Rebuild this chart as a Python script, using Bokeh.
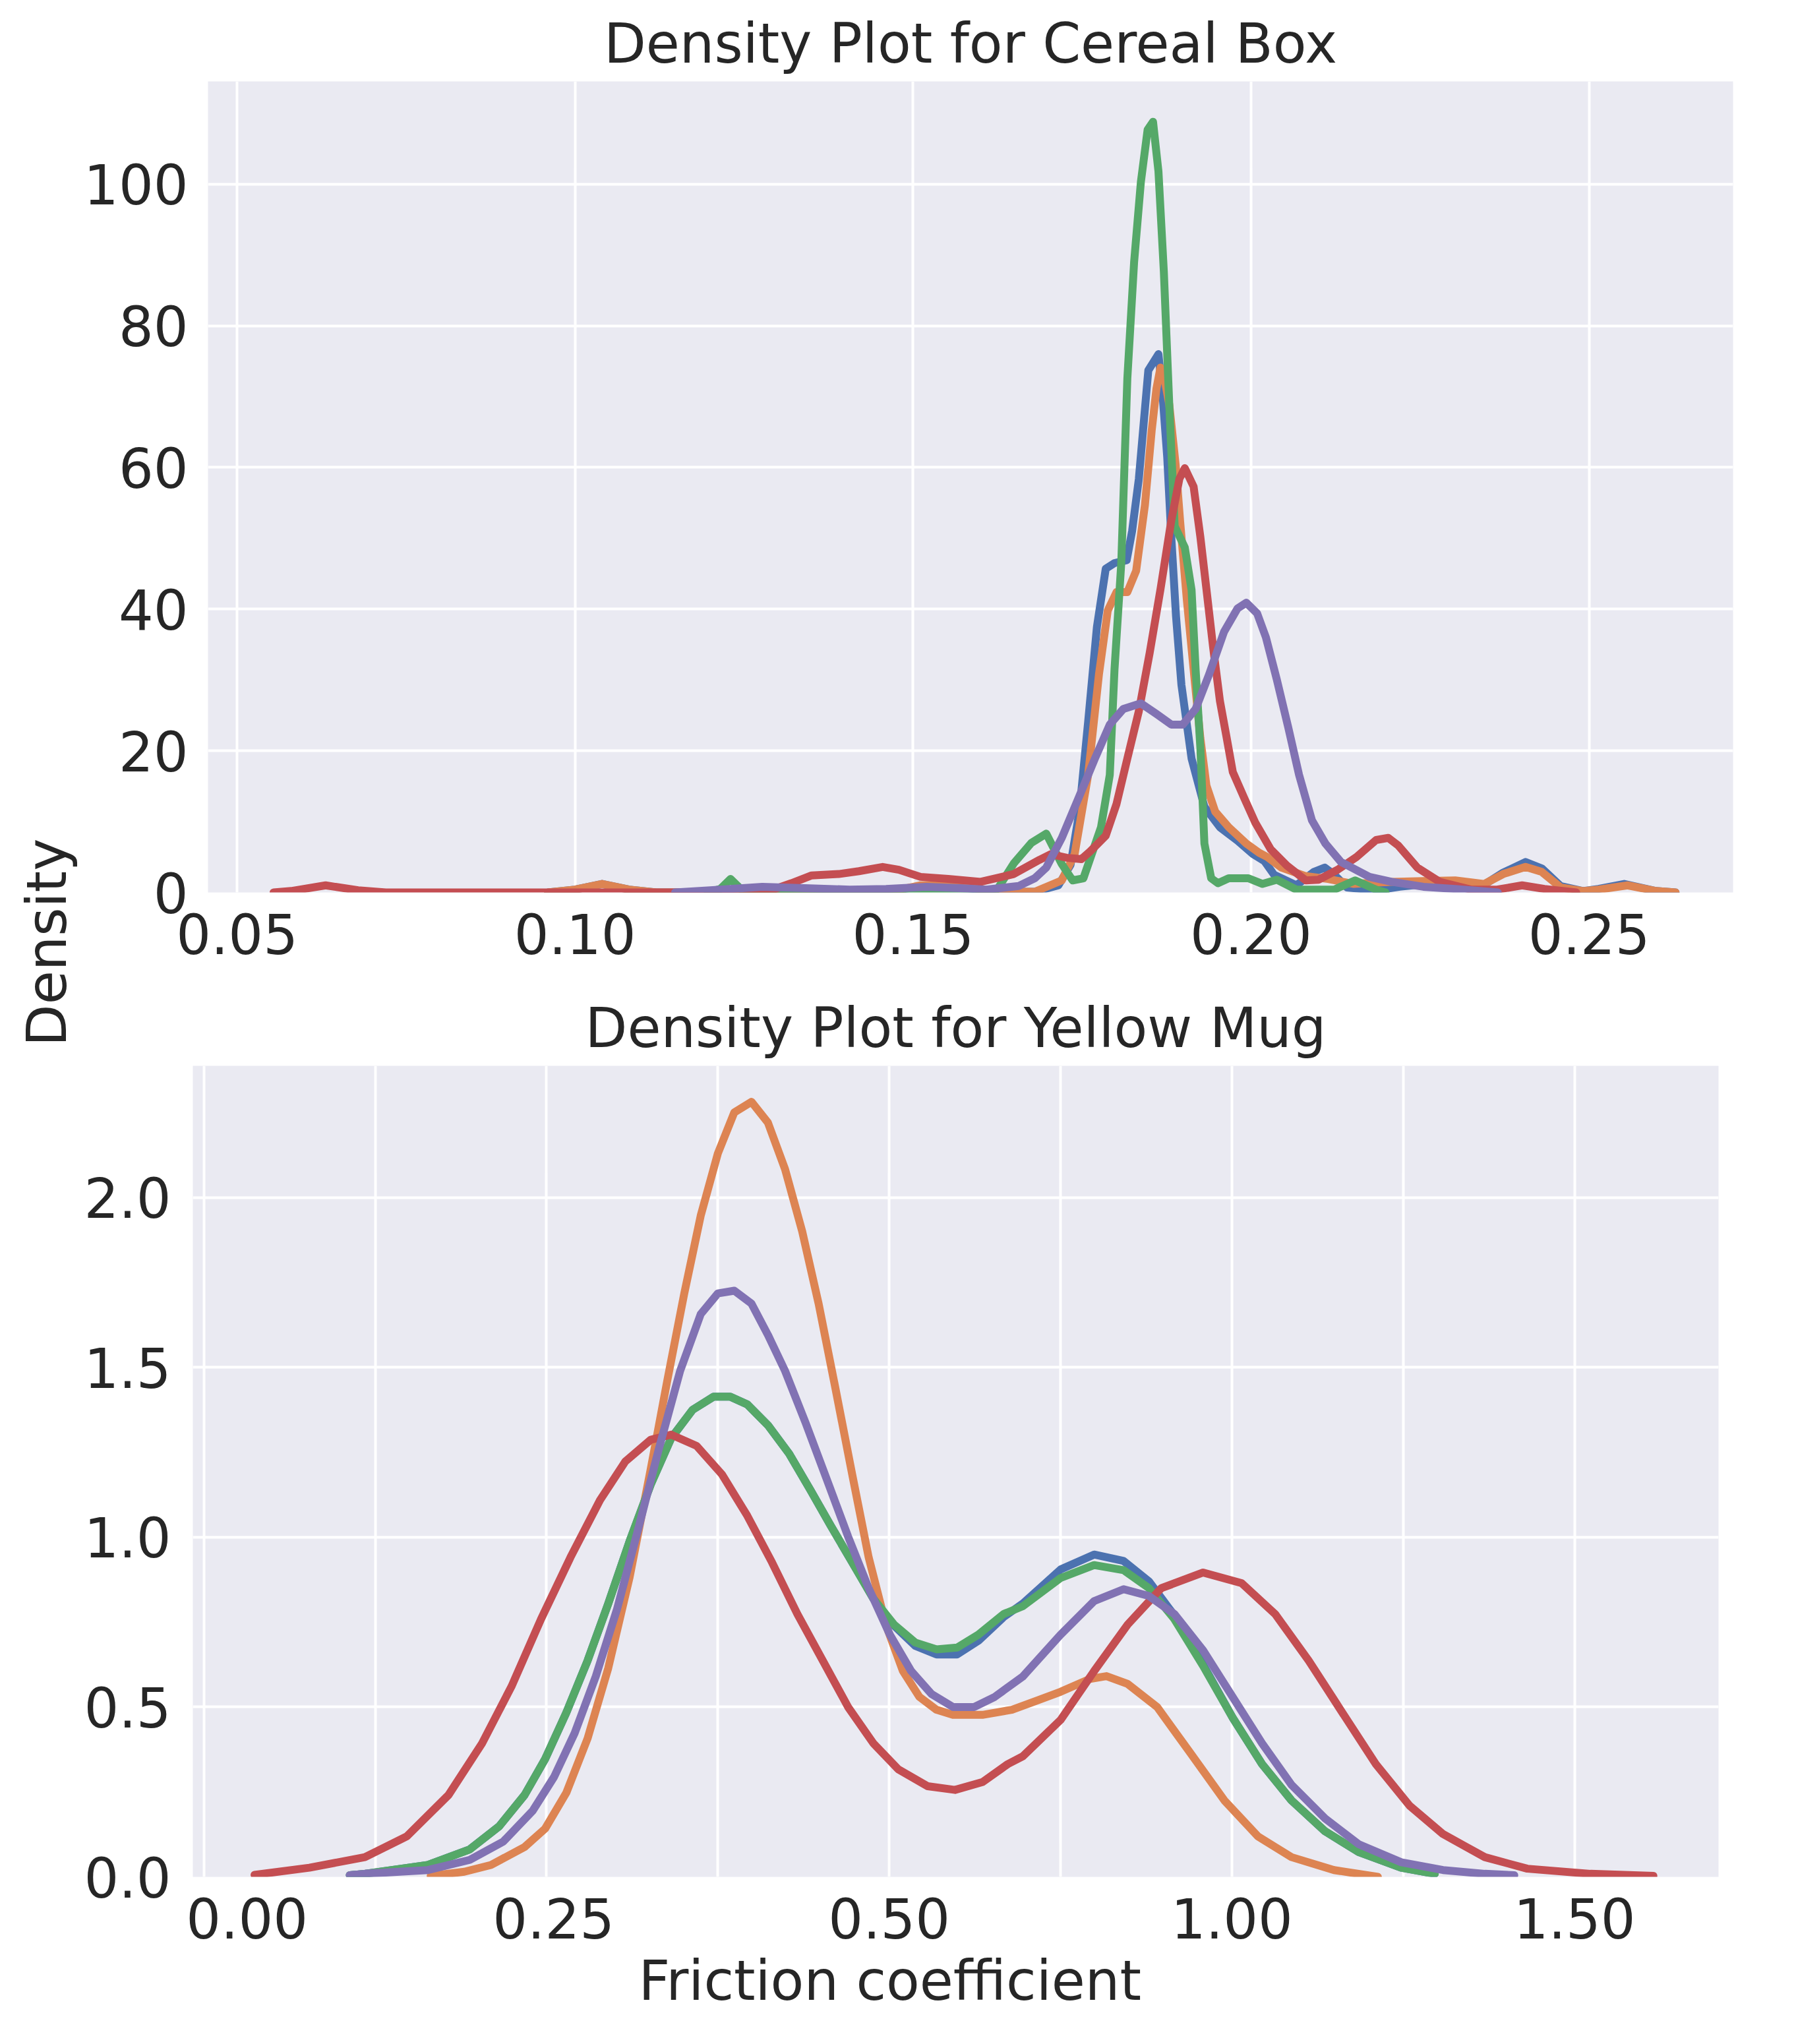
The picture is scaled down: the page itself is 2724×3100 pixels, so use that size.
import math
from bokeh.plotting import figure
from bokeh.models import Range1d, FixedTicker, Label, Title, PrintfTickFormatter, CustomJSTickFormatter
from bokeh.layouts import row, column
from bokeh.embed import file_html
from bokeh.resources import INLINE

FONT = "DejaVu Sans"
INK = "#262626"
FS = "83px"
PALETTE = ["#4C72B0", "#DD8452", "#55A868", "#C44E52", "#8172B3"]

# ---------------- Cereal Box (top) ----------------
cereal_s1_x = [0.096, 0.100, 0.104, 0.108, 0.112, 0.146, 0.151, 0.155, 0.159, 0.163,
               0.168, 0.1715, 0.1733, 0.1746, 0.1759, 0.1772, 0.1785, 0.1798, 0.1816, 0.1824,
               0.1834, 0.1848, 0.1863, 0.1869, 0.1876, 0.1882, 0.1889, 0.1897, 0.1912, 0.1931,
               0.1954, 0.1980, 0.2003, 0.2020, 0.2034, 0.2067, 0.2093, 0.2109, 0.2123, 0.2142,
               0.2185, 0.2220, 0.2260, 0.2300, 0.2345, 0.2373, 0.2406, 0.2430, 0.2458, 0.2491,
               0.2514, 0.2552, 0.2599, 0.2628]
cereal_s1_y = [0.0, 0.4, 1.2, 0.4, 0.0, 0.0, 0.9, 1.0, 0.5, 0.1,
               0.1, 1.0, 3.9, 11.4, 24.1, 37.5, 45.7, 46.5, 46.9, 51.0,
               58.4, 73.7, 76.0, 70.4, 61.4, 50.2, 39.0, 29.3, 18.9, 12.1,
               9.2, 7.3, 5.4, 4.4, 2.5, 1.0, 2.9, 3.5, 2.5, 0.7,
               0.3, 0.8, 1.2, 1.3, 1.1, 2.8, 4.3, 3.4, 0.9, 0.2,
               0.5, 1.2, 0.2, 0.0]

cereal_s2_x = [0.096, 0.100, 0.104, 0.108, 0.112, 0.146, 0.151, 0.155, 0.159, 0.163,
               0.168, 0.1720, 0.1739, 0.1759, 0.1775, 0.1788, 0.1801, 0.1817, 0.1830, 0.1843,
               0.1853, 0.1860, 0.1866, 0.1871, 0.1879, 0.1889, 0.1895, 0.1905, 0.1915, 0.1925,
               0.1934, 0.1947, 0.1967, 0.1993, 0.2012, 0.2024, 0.2045, 0.2081, 0.2114, 0.2152,
               0.2185, 0.2208, 0.2255, 0.2302, 0.2345, 0.2373, 0.2406, 0.2430, 0.2458, 0.2491,
               0.2514, 0.2557, 0.2599, 0.2628]
cereal_s2_y = [0.0, 0.4, 1.2, 0.4, 0.0, 0.0, 1.0, 1.1, 0.6, 0.1,
               0.1, 1.7, 5.4, 16.6, 30.8, 39.8, 42.4, 42.4, 45.4, 54.7,
               65.2, 71.1, 74.1, 73.0, 68.9, 59.9, 52.5, 41.3, 31.5, 21.8,
               15.1, 11.4, 9.2, 6.9, 5.6, 5.0, 3.5, 2.3, 1.9, 1.2,
               1.4, 1.5, 1.6, 1.7, 1.2, 2.6, 3.6, 2.9, 0.7, 0.2,
               0.4, 1.0, 0.2, 0.0]

cereal_s3_x = [0.1196, 0.1215, 0.1230, 0.1245, 0.1260, 0.1600, 0.1625, 0.1649, 0.1675, 0.1697,
               0.1720, 0.1736, 0.1752, 0.1778, 0.1791, 0.1798, 0.1808, 0.1817, 0.1827, 0.1837,
               0.1847, 0.1855, 0.1863, 0.1871, 0.1879, 0.1887, 0.1902, 0.1912, 0.1918, 0.1925,
               0.1931, 0.1941, 0.1951, 0.1967, 0.1996, 0.2017, 0.2038, 0.2067, 0.2123, 0.2154,
               0.2185, 0.2199]
cereal_s3_y = [0.0, 0.5, 1.9, 0.5, 0.0, 0.0, 0.5, 4.1, 7.0, 8.3,
               4.0, 1.7, 2.0, 9.2, 16.6, 31.5, 46.5, 72.6, 89.0, 100.3,
               107.7, 108.8, 101.8, 87.6, 68.9, 51.7, 48.7, 42.7, 31.5, 20.4,
               6.9, 2.0, 1.3, 2.0, 2.0, 1.2, 1.8, 0.4, 0.4, 1.7,
               0.4, 0.0]

cereal_s4_x = [0.0554, 0.0580, 0.0631, 0.0679, 0.0720, 0.1260, 0.1293, 0.1320, 0.1350, 0.1390,
               0.1420, 0.1455, 0.1479, 0.1511, 0.1552, 0.1600, 0.1649, 0.1687, 0.1704, 0.1727,
               0.1749, 0.1762, 0.1785, 0.1801, 0.1817, 0.1834, 0.1850, 0.1866, 0.1882, 0.1894,
               0.1902, 0.1915, 0.1925, 0.1934, 0.1944, 0.1954, 0.1964, 0.1973, 0.1990, 0.2006,
               0.2029, 0.2053, 0.2081, 0.2100, 0.2128, 0.2156, 0.2185, 0.2203, 0.2218, 0.2246,
               0.2279, 0.2326, 0.2364, 0.2401, 0.2434, 0.2481]
cereal_s4_y = [0.0, 0.2, 1.0, 0.3, 0.0, 0.0, 0.4, 1.3, 2.4, 2.6,
               3.0, 3.6, 3.2, 2.2, 1.9, 1.5, 2.6, 4.6, 5.4, 4.9,
               4.7, 5.8, 8.0, 12.5, 18.9, 25.6, 33.8, 42.8, 52.5, 58.4,
               59.9, 57.3, 50.2, 42.8, 34.5, 27.0, 21.8, 17.0, 13.3, 9.9,
               6.1, 3.8, 1.7, 1.8, 3.2, 5.0, 7.4, 7.7, 6.6, 3.5,
               1.5, 0.4, 0.4, 1.0, 0.5, 0.0]

cereal_s5_x = [0.1148, 0.1200, 0.1277, 0.1340, 0.1406, 0.1460, 0.1520, 0.1570, 0.1608, 0.1656,
               0.1680, 0.1697, 0.1720, 0.1746, 0.1769, 0.1791, 0.1811, 0.1837, 0.1860, 0.1882,
               0.1899, 0.1918, 0.1938, 0.1960, 0.1980, 0.1993, 0.2009, 0.2022, 0.2038, 0.2055,
               0.2071, 0.2090, 0.2110, 0.2133, 0.2175, 0.2208, 0.2255, 0.2302, 0.2365]
cereal_s5_y = [0.0, 0.3, 0.8, 0.6, 0.4, 0.5, 0.8, 0.6, 0.4, 0.9,
               2.0, 3.5, 7.7, 13.6, 18.9, 23.7, 25.9, 26.7, 25.2, 23.7,
               23.7, 25.9, 30.8, 36.8, 40.1, 40.9, 39.4, 36.0, 30.1, 23.3,
               16.6, 10.2, 6.9, 4.3, 2.2, 1.5, 0.8, 0.5, 0.0]

# ---------------- Yellow Mug (bottom) ----------------
mug_s3_x = [-0.287, -0.265, -0.173, -0.112, -0.069, -0.032, -0.002, 0.029, 0.060, 0.090,
            0.121, 0.152, 0.182, 0.213, 0.244, 0.268, 0.293, 0.323, 0.354, 0.385,
            0.415, 0.446, 0.477, 0.507, 0.538, 0.569, 0.599, 0.630, 0.667, 0.695,
            0.750, 0.799, 0.842, 0.879, 0.916, 0.958, 1.001, 1.044, 1.087, 1.136,
            1.185, 1.247, 1.296]
mug_s3_y = [0.005, 0.009, 0.035, 0.081, 0.149, 0.241, 0.347, 0.484, 0.637, 0.804,
            0.987, 1.155, 1.292, 1.375, 1.414, 1.414, 1.391, 1.330, 1.246, 1.139,
            1.033, 0.926, 0.819, 0.743, 0.690, 0.670, 0.675, 0.713, 0.774, 0.797,
            0.880, 0.918, 0.903, 0.850, 0.759, 0.621, 0.469, 0.332, 0.225, 0.134,
            0.073, 0.027, 0.009]

mug_s1_x = [-0.287, -0.265, -0.173, -0.112, -0.069, -0.032, -0.002, 0.029, 0.060, 0.090,
            0.121, 0.152, 0.182, 0.213, 0.244, 0.268, 0.293, 0.323, 0.354, 0.385,
            0.415, 0.446, 0.477, 0.507, 0.538, 0.569, 0.599, 0.630, 0.667, 0.695,
            0.750, 0.799, 0.842, 0.879, 0.916, 0.958, 1.001, 1.044, 1.087, 1.136,
            1.185, 1.247, 1.296]
mug_s1_y = [0.005, 0.009, 0.035, 0.081, 0.149, 0.241, 0.347, 0.484, 0.637, 0.804,
            0.987, 1.155, 1.292, 1.375, 1.414, 1.414, 1.391, 1.330, 1.246, 1.139,
            1.033, 0.926, 0.819, 0.740, 0.680, 0.655, 0.655, 0.695, 0.765, 0.805,
            0.905, 0.949, 0.930, 0.870, 0.770, 0.625, 0.469, 0.332, 0.225, 0.134,
            0.073, 0.027, 0.009]

mug_s2_x = [-0.169, -0.120, -0.081, -0.032, -0.002, 0.029, 0.060, 0.090, 0.121, 0.152,
            0.176, 0.201, 0.225, 0.250, 0.274, 0.299, 0.323, 0.348, 0.373, 0.397,
            0.421, 0.446, 0.470, 0.495, 0.520, 0.544, 0.569, 0.593, 0.636, 0.679,
            0.717, 0.750, 0.793, 0.817, 0.848, 0.891, 0.940, 0.989, 1.038, 1.087,
            1.149, 1.213]
mug_s2_y = [0.003, 0.015, 0.035, 0.088, 0.142, 0.248, 0.408, 0.614, 0.880, 1.200,
            1.459, 1.718, 1.947, 2.130, 2.251, 2.282, 2.221, 2.084, 1.901, 1.688,
            1.444, 1.185, 0.941, 0.743, 0.606, 0.530, 0.492, 0.477, 0.477, 0.492,
            0.520, 0.545, 0.583, 0.591, 0.568, 0.500, 0.363, 0.225, 0.119, 0.058,
            0.020, 0.0]

mug_s4_x = [-0.426, -0.346, -0.265, -0.204, -0.143, -0.094, -0.051, -0.008, 0.035, 0.078,
            0.115, 0.152, 0.182, 0.219, 0.256, 0.293, 0.329, 0.366, 0.403, 0.440,
            0.477, 0.513, 0.556, 0.596, 0.636, 0.673, 0.695, 0.750, 0.799, 0.848,
            0.897, 0.958, 1.014, 1.063, 1.112, 1.161, 1.210, 1.259, 1.308, 1.369,
            1.431, 1.523, 1.615]
mug_s4_y = [0.006, 0.027, 0.058, 0.119, 0.241, 0.393, 0.561, 0.759, 0.941, 1.109,
            1.223, 1.287, 1.302, 1.269, 1.185, 1.063, 0.926, 0.774, 0.637, 0.500,
            0.393, 0.317, 0.267, 0.256, 0.279, 0.332, 0.355, 0.462, 0.606, 0.743,
            0.850, 0.896, 0.865, 0.774, 0.637, 0.484, 0.332, 0.210, 0.126, 0.058,
            0.024, 0.009, 0.003]

mug_s5_x = [-0.287, -0.265, -0.173, -0.112, -0.063, -0.020, 0.011, 0.041, 0.072, 0.103,
            0.133, 0.164, 0.195, 0.225, 0.250, 0.274, 0.299, 0.323, 0.348, 0.378,
            0.409, 0.440, 0.470, 0.501, 0.532, 0.562, 0.593, 0.624, 0.654, 0.695,
            0.750, 0.799, 0.842, 0.879, 0.916, 0.958, 1.001, 1.044, 1.087, 1.136,
            1.185, 1.247, 1.308, 1.369, 1.412]
mug_s5_y = [0.005, 0.009, 0.020, 0.050, 0.104, 0.195, 0.294, 0.423, 0.591, 0.789,
            1.018, 1.261, 1.490, 1.657, 1.718, 1.726, 1.688, 1.596, 1.490, 1.337,
            1.170, 1.002, 0.850, 0.713, 0.606, 0.538, 0.500, 0.500, 0.530, 0.590,
            0.713, 0.812, 0.847, 0.827, 0.774, 0.667, 0.530, 0.393, 0.271, 0.172,
            0.096, 0.043, 0.020, 0.009, 0.005]

cereal_series = [(cereal_s1_x, cereal_s1_y), (cereal_s2_x, cereal_s2_y), (cereal_s3_x, cereal_s3_y),
                 (cereal_s4_x, cereal_s4_y), (cereal_s5_x, cereal_s5_y)]
mug_series = [(mug_s1_x, mug_s1_y), (mug_s2_x, mug_s2_y), (mug_s3_x, mug_s3_y),
              (mug_s4_x, mug_s4_y), (mug_s5_x, mug_s5_y)]

cereal_xticks = [0.05, 0.10, 0.15, 0.20, 0.25]
cereal_yticks = [0, 20, 40, 60, 80, 100]
mug_yticks = [0.0, 0.5, 1.0, 1.5, 2.0]
mug_grid_x = [-0.5, -0.25, 0.0, 0.25, 0.5, 0.75, 1.0, 1.25, 1.5]
mug_xtick_labels = ["0.00", "0.25", "0.50", "1.00", "1.50"]
mug_xtick_pos = [-0.437, 0.0103, 0.5, 1.0, 1.5]

TITLES = ["Density Plot for Cereal Box", "Density Plot for Yellow Mug"]
X_LABEL = "Friction coefficient"
Y_LABEL = "Density"


def style(p, ystandoff):
    p.background_fill_color = "#EAEAF2"
    p.border_fill_color = "white"
    p.outline_line_color = None
    for ax in p.axis:
        ax.axis_line_color = None
        ax.major_tick_line_color = None
        ax.minor_tick_line_color = None
        ax.major_tick_out = 0
        ax.major_tick_in = 0
        ax.minor_tick_out = 0
        ax.minor_tick_in = 0
        ax.major_label_text_font = FONT
        ax.major_label_text_font_size = FS
        ax.major_label_text_color = INK
    p.xaxis.major_label_standoff = 31
    p.yaxis.major_label_standoff = ystandoff
    p.grid.grid_line_color = "white"
    p.grid.grid_line_width = 4
    p.title.text_font = FONT
    p.title.text_font_size = FS
    p.title.text_font_style = "normal"
    p.title.text_color = INK
    p.title.align = "center"
    p.title.standoff = 18


def draw(p, series):
    for (xs, ys), col in zip(series, PALETTE):
        p.line(xs, ys, line_color=col, line_width=12, line_join="round", line_cap="round")


LW, LH = 124, 3074
W = 2574
# top figure
p1 = figure(width=W, height=1492, title=TITLES[0],
            x_range=Range1d(0.0457, 0.2713), y_range=Range1d(0, 114.5),
            min_border_left=189, min_border_right=70, min_border_top=123, min_border_bottom=139,
            output_backend="svg", toolbar_location=None)
draw(p1, cereal_series)
p1.xaxis.ticker = FixedTicker(ticks=cereal_xticks)
p1.xaxis.formatter = PrintfTickFormatter(format="%.2f")
p1.yaxis.ticker = FixedTicker(ticks=cereal_yticks)
p1.yaxis.formatter = PrintfTickFormatter(format="%d")
style(p1, 30)

# bottom figure
p2 = figure(width=W, height=1582, title=TITLES[1],
            x_range=Range1d(-0.516, 1.71), y_range=Range1d(0, 2.388),
            min_border_left=166, min_border_right=92, min_border_top=124, min_border_bottom=228,
            output_backend="svg", toolbar_location=None)
draw(p2, mug_series)
p2.xaxis.ticker = FixedTicker(ticks=mug_xtick_pos)
p2.xaxis.formatter = CustomJSTickFormatter(args=dict(labels=mug_xtick_labels), code="return labels[index];")
p2.xgrid.ticker = FixedTicker(ticks=mug_grid_x)
p2.yaxis.ticker = FixedTicker(ticks=mug_yticks)
p2.yaxis.formatter = PrintfTickFormatter(format="%.1f")
style(p2, 33)

# shared x label as a title panel below the axis
xcap = Title(text=X_LABEL, align="left", vertical_align="top", offset=676,
             text_font=FONT, text_font_size=FS, text_font_style="normal", text_color=INK)
xcap.standoff = 26
p2.add_layout(xcap, "below")

# left strip holding the shared y label
left = figure(width=LW, height=LH, x_range=Range1d(0, LW), y_range=Range1d(0, LH),
              x_axis_type=None, y_axis_type=None, min_border=0,
              output_backend="svg", toolbar_location=None)
left.outline_line_color = None
left.background_fill_color = "white"
left.border_fill_color = "white"
left.add_layout(Label(x=71, y=LH - (1437 - 8), text=Y_LABEL, angle=math.pi / 2,
                      text_align="center", text_baseline="alphabetic",
                      text_font=FONT, text_font_size=FS, text_color=INK))

layout = row(left, column(row(p1), row(p2)))
open("out.html", "w").write(file_html(layout, INLINE))
